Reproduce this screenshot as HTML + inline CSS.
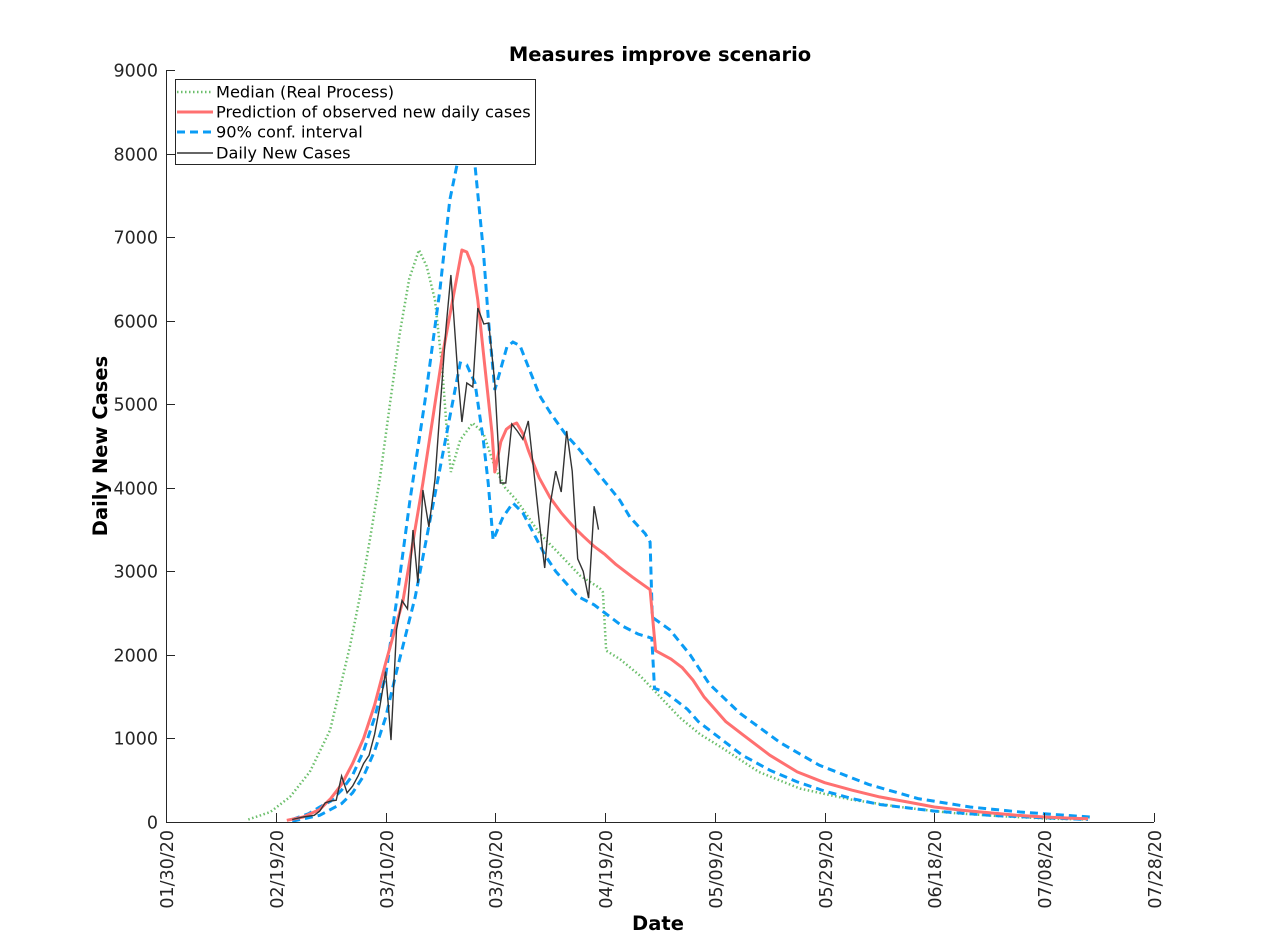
<!DOCTYPE html>
<html><head><meta charset="utf-8"><style>
body{margin:0;background:#fff}
svg{display:block;font-family:"DejaVu Sans","Liberation Sans",sans-serif}
</style></head><body>
<svg id="chart" width="1274" height="935" xmlns="http://www.w3.org/2000/svg">
<rect width="1274" height="935" fill="#fff"/>
<text x="660" y="61" text-anchor="middle" font-weight="bold" font-size="19.5">Measures improve scenario</text>
<g id="plot"></g>
<g id="axes"></g>
<text transform="translate(107,446) rotate(-90)" text-anchor="middle" font-weight="bold" font-size="19.5">Daily New Cases</text>
<text x="658" y="930" text-anchor="middle" font-weight="bold" font-size="19.5">Date</text>
<g>
<rect x="175.5" y="79.5" width="360" height="85" fill="#fff" stroke="#262626" stroke-width="1"/>
<line x1="177" y1="92" x2="213" y2="92" stroke="#5cb85c" stroke-width="2.5" stroke-dasharray="1.5,2.5" opacity="0.9"/>
<text x="216" y="97.5" font-size="16.2">Median (Real Process)</text>
<line x1="177" y1="112" x2="213" y2="112" stroke="#ff7070" stroke-width="3"/>
<text x="216" y="117.5" font-size="16.2">Prediction of observed new daily cases</text>
<line x1="177" y1="132" x2="213" y2="132" stroke="#0a9cf5" stroke-width="3" stroke-dasharray="8,5"/>
<text x="216" y="137.5" font-size="16.2">90% conf. interval</text>
<line x1="177" y1="153" x2="213" y2="153" stroke="#333" stroke-width="1.5"/>
<text x="216" y="158.5" font-size="16.2">Daily New Cases</text>
</g>
</svg>
<script>
const xTickLabels=["01/30/20","02/19/20","03/10/20","03/30/20","04/19/20","05/09/20","05/29/20","06/18/20","07/08/20","07/28/20"];
const yTicks=[0,1000,2000,3000,4000,5000,6000,7000,8000,9000];
const medianDays=[15,19,22.6,26.2,29.9,33.5,35.3,37.2,39,40.8,42.6,44.3,46.1,47.5,49,50.3,51.2,51.9,53.6,55.9,57.8,59.9,61.8,63.9,68.1,71.8,75.4,79,79.6,80.2,82.7,86.4,90,93.6,97.3,101,108,115.5,124.6,133.7,142.8,152,161,168.3];
const medianVals=[30,120,300,600,1100,2100,2693,3400,4129,5000,5852,6500,6846,6650,6247,5445,4655,4189,4572,4775,4655,4249,4000,3850,3450,3200,2950,2800,2750,2050,1950,1750,1500,1250,1050,900,600,400,270,180,110,70,40,30];
const predDays=[22,25,28,30,32,34,36,38,40,43.2,46.8,50.3,53,53.9,54.8,55.9,56.8,58.1,59.4,59.9,61,62,63,63.9,65,66,67,68,70,72,74,76,78,80,82,85,88.2,89.2,92,94,96,98,100,102,105,110,115,120,125,130,135,140,145,150,155,160,165,168];
const predVals=[20,60,150,280,450,700,1000,1400,1900,2657,4057,5565,6522,6846,6822,6642,6247,5445,4655,4189,4550,4700,4751,4775,4650,4450,4280,4120,3880,3700,3550,3420,3300,3200,3080,2930,2780,2050,1950,1850,1700,1500,1350,1200,1050,800,600,470,380,300,240,180,140,110,80,60,45,40];
const upperDays=[23,26,28,30,32,34,36,38,40,41.9,44.45,47.2,49.9,51.7,53,54.3,55.5,56.3,57.8,58.7,59.9,62.1,63.2,64.5,66.3,68.1,70,72.7,75.4,79,82.7,84.5,87.3,88.2,88.6,91.8,95.5,99,104.6,111.9,119,128,137,146.5,155.6,168.3];
const upperVals=[30,100,180,250,380,560,850,1250,1750,2600,3854,5050,6367,7444,7860,8400,8300,7860,6846,6044,5170,5685,5745,5700,5400,5100,4900,4650,4450,4150,3850,3650,3450,3350,2450,2300,2000,1650,1300,950,680,450,280,180,120,60];
const lowerDays=[23,28,32,34,36,38,40,42,45.4,49.4,51.7,53.6,54.8,56.3,57.8,58.7,59.6,61.4,63.2,65,67,69,71,73,75,78,80,83,86,88.5,89,91,93,95,97,100,105,110,115,120,125,130,140,150,160,168];
const lowerVals=[10,80,220,350,550,850,1250,1800,2693,4057,4847,5493,5470,5254,4572,4057,3375,3650,3818,3700,3450,3200,3000,2850,2700,2600,2500,2350,2250,2200,1600,1550,1450,1350,1200,1050,800,620,480,370,280,210,130,80,50,30];
const dailyDays=[23,25,27,28,29,30,31,32,33,34,35,36,37,38,39,40,40.5,41,42,43,44,45,45.9,46.8,47.9,49,50,51,51.9,53.2,53.9,54.8,55.9,56.8,57.9,58.8,59.9,60.9,61.9,63,64,65,66,67,68,69,70,71,72,73,74,75,76,77,78,78.8];
const dailyVals=[30,60,80,130,230,250,260,550,350,430,550,700,800,1050,1400,1800,1400,980,2300,2650,2550,3495,2860,3973,3530,4100,5000,5900,6546,5326,4787,5254,5206,6151,5960,5972,5254,4057,4057,4763,4680,4580,4800,4200,3600,3040,3800,4200,3950,4680,4200,3150,3000,2680,3780,3500];

const X0=166,X1=1154,Y0=822,Y1=70,DAYS=180,YMAX=9000;
const xs=d=>X0+(X1-X0)*d/DAYS;
const ys=v=>Y0-(Y0-Y1)*v/YMAX;
const NS="http://www.w3.org/2000/svg";
const plot=document.getElementById('plot'),axes=document.getElementById('axes');
function mk(tag,attrs,parent){const e=document.createElementNS(NS,tag);for(const k in attrs)e.setAttribute(k,attrs[k]);parent.appendChild(e);return e;}
function pathOf(days,vals){return days.map((d,i)=>(i?'L':'M')+xs(d).toFixed(1)+','+ys(vals[i]).toFixed(1)).join(' ');}
let p;
p=mk('path',{d:pathOf(medianDays,medianVals),fill:'none',stroke:'#5cb85c','stroke-width':2.5,'stroke-dasharray':'1.5,2.5',opacity:0.9},plot);


p=mk('path',{d:pathOf(upperDays,upperVals),fill:'none',stroke:'#0a9cf5','stroke-width':3,'stroke-dasharray':'8,5'},plot);


p=mk('path',{d:pathOf(lowerDays,lowerVals),fill:'none',stroke:'#0a9cf5','stroke-width':3,'stroke-dasharray':'8,5'},plot);


p=mk('path',{d:pathOf(predDays,predVals),fill:'none',stroke:'#ff7070','stroke-width':3,'stroke-linejoin':'round'},plot);


p=mk('path',{d:pathOf(dailyDays,dailyVals),fill:'none',stroke:'#333','stroke-width':1.4},plot);



mk('line',{x1:X0,y1:Y0+0.5,x2:X1,y2:Y0+0.5,stroke:'#262626'},axes);
mk('line',{x1:X0+0.5,y1:Y0,x2:X0+0.5,y2:Y1,stroke:'#262626'},axes);
yTicks.forEach(v=>{
  const y=Math.round(ys(v))+0.5;
  mk('line',{x1:X0,y1:y,x2:X0+9,y2:y,stroke:'#262626'},axes);
  const t=mk('text',{x:X0-8,y:y+6,'text-anchor':'end','font-size':17.5,fill:'#262626'},axes);
  t.textContent=String(v);
  
  
});
xTickLabels.forEach((lab,i)=>{
  const x=Math.round(xs(i*20))+0.5;
  mk('line',{x1:x,y1:Y0,x2:x,y2:Y0-9,stroke:'#262626'},axes);
  const t=mk('text',{transform:`translate(${x+6.5},${Y0+8}) rotate(-90)`,'text-anchor':'end','font-size':17.5,fill:'#262626'},axes);
  t.textContent=lab;
  
  
});
</script>
</body></html>
